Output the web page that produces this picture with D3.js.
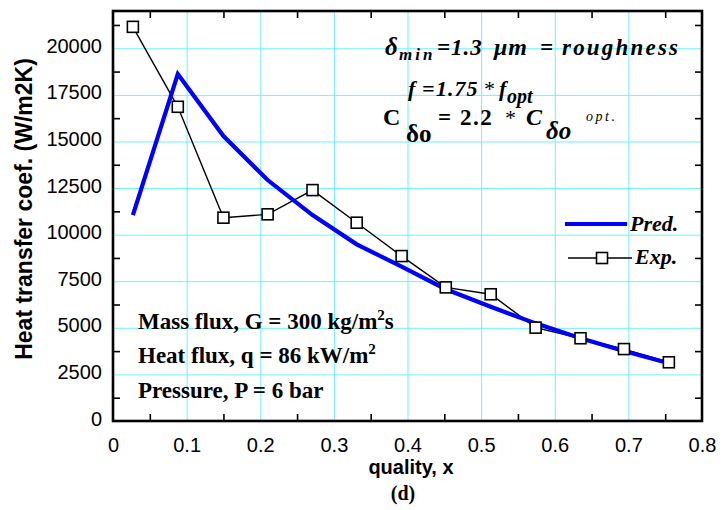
<!DOCTYPE html>
<html><head><meta charset="utf-8">
<script src="https://cdn.jsdelivr.net/npm/d3@7"></script>
<style>body{margin:0;background:#fff}</style>
</head><body><svg id="c" width="728" height="510"></svg>
<script>
const quality = [0.027, 0.088, 0.150, 0.210, 0.271, 0.331, 0.392, 0.452, 0.513, 0.574, 0.635, 0.694, 0.755];
const predValues = [11050, 18620, 15290, 12930, 11050, 9480, 8280, 7070, 6130, 5240, 4440, 3760, 3100];
const expValues = [21150, 16860, 10910, 11090, 12390, 10640, 8850, 7170, 6800, 5010, 4440, 3860, 3150];
const xTickLabels = [0, 0.1, 0.2, 0.3, 0.4, 0.5, 0.6, 0.7, 0.8];
const yTickLabels = [0, 2500, 5000, 7500, 10000, 12500, 15000, 17500, 20000];
const xMinorTicks = [0.05, 0.15, 0.25, 0.35, 0.45, 0.55, 0.65, 0.75];
const yMinorTicks = [1250, 3750, 6250, 8750, 11250, 13750, 16250, 18750, 21250];

const svg = d3.select("#c");
const L = 113, R = 702, T = 11, B = 421;
const x = d3.scaleLinear().domain([0, 0.8]).range([L, R]);
const y = d3.scaleLinear().domain([0, 22000]).range([B, T]);
const sans = "'Liberation Sans', Arial, sans-serif";
const serif = "'Liberation Serif', 'Times New Roman', serif";

// grid
const gridColor = "#6ff0fb";
svg.append("g").attr("transform", `translate(0,${B})`)
  .call(d3.axisBottom(x).tickValues(xTickLabels.slice(1, -1)).tickSize(-(B - T)).tickFormat(""))
  .call(g => g.select(".domain").remove())
  .call(g => g.selectAll("line").attr("stroke", gridColor).attr("stroke-width", 1));
svg.append("g").attr("transform", `translate(${L},0)`)
  .call(d3.axisLeft(y).tickValues(yTickLabels.slice(1)).tickSize(-(R - L)).tickFormat(""))
  .call(g => g.select(".domain").remove())
  .call(g => g.selectAll("line").attr("stroke", gridColor).attr("stroke-width", 1));

// minor ticks inward on all sides
const tk = 7;
function minor(axisGen, tr) {
  svg.append("g").attr("transform", tr)
    .call(axisGen.tickSize(tk).tickFormat(""))
    .call(g => g.select(".domain").remove())
    .call(g => g.selectAll("line").attr("stroke", "#000").attr("stroke-width", 1.6));
}
minor(d3.axisTop(x).tickValues(xMinorTicks), `translate(0,${B})`);
minor(d3.axisBottom(x).tickValues(xMinorTicks), `translate(0,${T})`);
minor(d3.axisRight(y).tickValues(yMinorTicks), `translate(${L},0)`);
minor(d3.axisLeft(y).tickValues(yMinorTicks), `translate(${R},0)`);

// tick labels
svg.append("g").attr("transform", `translate(0,${B})`)
  .call(d3.axisBottom(x).tickValues(xTickLabels).tickSize(0).tickPadding(17).tickFormat(d => d === 0 ? "0" : d3.format(".1f")(d)))
  .call(g => g.select(".domain").remove())
  .call(g => g.selectAll("text").attr("font-family", sans).attr("font-size", 20).attr("fill", "#000"));
svg.append("g").attr("transform", `translate(${L},0)`)
  .call(d3.axisLeft(y).tickValues(yTickLabels).tickSize(0).tickPadding(11).tickFormat(d3.format("d")))
  .call(g => g.select(".domain").remove())
  .call(g => g.selectAll("text").attr("font-family", sans).attr("font-size", 20).attr("fill", "#000").attr("dy", "0.2em"));

// frame
svg.append("rect").attr("x", L).attr("y", T).attr("width", R - L).attr("height", B - T)
  .attr("fill", "none").attr("stroke", "#000").attr("stroke-width", 2.6);

// data
const pts = quality.map((q, i) => ({q, p: predValues[i], e: expValues[i]}));
svg.append("path").datum(pts)
  .attr("d", d3.line().x(d => x(d.q)).y(d => y(d.e)))
  .attr("fill", "none").attr("stroke", "#000").attr("stroke-width", 1.4);
svg.append("path").datum(pts)
  .attr("d", d3.line().x(d => x(d.q)).y(d => y(d.p)))
  .attr("fill", "none").attr("stroke", "#0000ff").attr("stroke-width", 4.2).attr("stroke-linejoin", "miter");
const sq = 11;
svg.append("g").selectAll("rect").data(pts).join("rect")
  .attr("x", d => x(d.q) - sq / 2).attr("y", d => y(d.e) - sq / 2)
  .attr("width", sq).attr("height", sq)
  .attr("fill", "#fff").attr("stroke", "#000").attr("stroke-width", 1.6);

// legend
svg.append("line").attr("x1", 565).attr("x2", 627).attr("y1", 224).attr("y2", 224)
  .attr("stroke", "#0000ff").attr("stroke-width", 4.2);
svg.append("line").attr("x1", 568).attr("x2", 632).attr("y1", 258).attr("y2", 258)
  .attr("stroke", "#000").attr("stroke-width", 1.4);
svg.append("rect").attr("x", 602 - sq / 2).attr("y", 258 - sq / 2).attr("width", sq).attr("height", sq)
  .attr("fill", "#fff").attr("stroke", "#000").attr("stroke-width", 1.6);
svg.append("text").attr("x", 630).attr("y", 231).attr("font-family", serif).attr("font-weight", "bold")
  .attr("font-style", "italic").attr("font-size", 22).text("Pred.");
svg.append("text").attr("x", 635).attr("y", 264).attr("font-family", serif).attr("font-weight", "bold")
  .attr("font-style", "italic").attr("font-size", 22).text("Exp.");

// axis titles
svg.append("text").attr("x", 411).attr("y", 474).attr("text-anchor", "middle")
  .attr("font-family", sans).attr("font-weight", "bold").attr("font-size", 20).text("quality, x");
svg.append("text").attr("x", 403).attr("y", 500).attr("text-anchor", "middle")
  .attr("font-family", serif).attr("font-weight", "bold").attr("font-size", 20).text("(d)");
svg.append("text").attr("transform", "translate(32,209) rotate(-90)").attr("text-anchor", "middle")
  .attr("font-family", sans).attr("font-weight", "bold").attr("font-size", 23).text("Heat transfer coef. (W/m2K)");

// conditions text
function cond(yb, parts) {
  const t = svg.append("text").attr("x", 138).attr("y", yb).attr("font-family", serif)
    .attr("font-weight", "bold").attr("font-size", 23);
  parts.forEach(p => {
    const s = t.append("tspan").text(p[0]);
    if (p[1]) s.attr("dy", p[1]);
    if (p[2]) s.attr("font-size", p[2]);
  });
}
cond(329, [["Mass flux, G = 300 kg/m"], ["2", -9, 15], ["s", 9]]);
cond(363, [["Heat flux, q = 86 kW/m"], ["2", -9, 15]]);
cond(398, [["Pressure, P = 6 bar"]]);

// parameter annotations
function piece(t, px, py, size, italic, bold, ls) {
  svg.append("text").attr("x", px).attr("y", py).attr("font-family", serif)
    .attr("font-size", size).attr("font-style", italic ? "italic" : "normal")
    .attr("font-weight", bold ? "bold" : "normal").attr("letter-spacing", ls || 0).text(t);
}
// line 1
piece("δ", 385, 55, 25, true, true);
piece("min", 399, 60, 17, true, true, 3);
piece("=1.3", 437, 55, 23, true, true, 1);
piece("μm", 494, 55, 24, true, true, 1);
piece("=", 540, 55, 23, true, true);
piece("roughness", 562, 55, 23, true, true, 2.2);
// line 2
piece("f", 408, 96, 22, true, true);
piece("=", 422, 96, 22, true, true);
piece("1.75", 436, 96, 22, true, true, 1);
piece("*", 483, 96, 22, true, false);
piece("f", 499, 96, 22, true, true);
piece("opt", 507, 103, 20, true, true);
// line 3
piece("C", 383, 125, 24, false, true);
piece("δo", 406, 142, 25, false, true);
piece("=", 438, 125, 23, false, true);
piece("2.2", 460, 125, 23, false, true, 1.5);
piece("*", 505, 125, 22, false, false);
piece("C", 526, 125, 24, true, true);
piece("δo", 546, 139, 25, true, true);
piece("opt.", 586, 121, 14, true, false, 2.5);
</script>
</body></html>
